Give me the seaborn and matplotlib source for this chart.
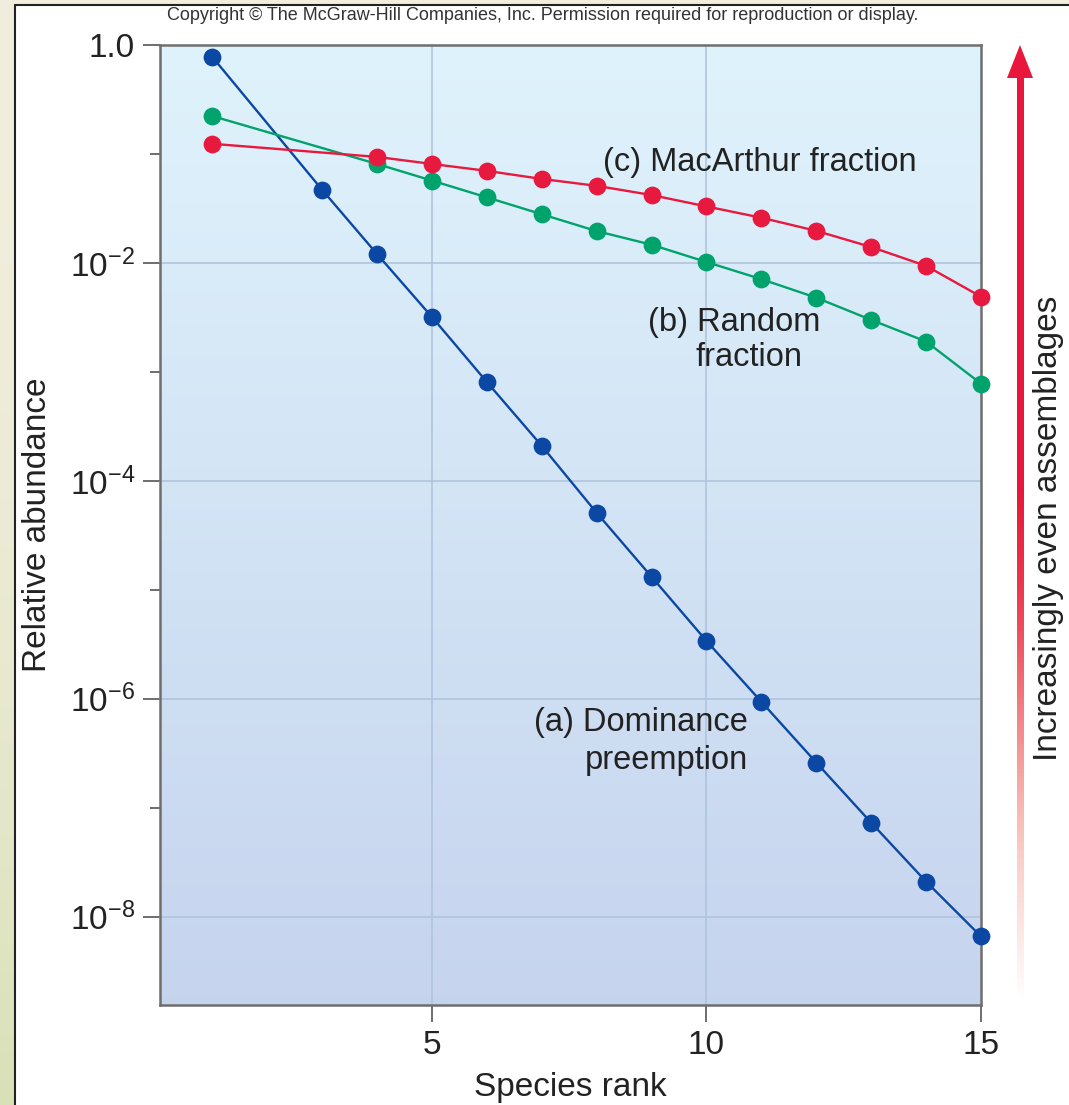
import numpy as np
import pandas as pd
import matplotlib
matplotlib.use("Agg")
import matplotlib.pyplot as plt
import seaborn as sns
from matplotlib.patches import Polygon, Rectangle
from matplotlib.ticker import FixedLocator, NullFormatter

# ---- data ----
rank_a = [1, 3, 4, 5, 6, 7, 8, 9, 10, 11, 12, 13, 14, 15]
dominance = [0.78, 0.047, 0.0121, 3.2e-3, 8.1e-4, 2.1e-4, 5.1e-5, 1.32e-5,
             3.4e-6, 9.4e-7, 2.6e-7, 7.3e-8, 2.1e-8, 6.6e-9]
rank_bc = [1, 4, 5, 6, 7, 8, 9, 10, 11, 12, 13, 14, 15]
random_frac = [0.223, 0.081, 0.057, 0.040, 0.028, 0.0196, 0.0147, 0.0102,
               0.0071, 0.0048, 0.0030, 0.0019, 7.8e-4]
macarthur = [0.124, 0.094, 0.081, 0.070, 0.059, 0.051, 0.042, 0.033,
             0.026, 0.0197, 0.014, 0.0094, 0.0049]
x_ticks = [5, 10, 15]
y_major = [1.0, 1e-2, 1e-4, 1e-6, 1e-8]
y_major_labels = ["1.0", r"$10^{-2}$", r"$10^{-4}$", r"$10^{-6}$", r"$10^{-8}$"]
y_minor = [1e-1, 1e-3, 1e-5, 1e-7]

df_a = pd.DataFrame({"rank": rank_a, "abundance": dominance})
df_b = pd.DataFrame({"rank": rank_bc, "abundance": random_frac})
df_c = pd.DataFrame({"rank": rank_bc, "abundance": macarthur})

sns.set_theme(style="white")
plt.rcParams['font.family'] = ['Liberation Sans', 'DejaVu Sans']
plt.rcParams['mathtext.fontset'] = 'custom'
plt.rcParams['mathtext.rm'] = 'Liberation Sans'
plt.rcParams['mathtext.it'] = 'Liberation Sans'

W, H = 1069, 1105
fig = plt.figure(figsize=(W / 100, H / 100), dpi=100)
fig.patch.set_facecolor("white")

# outer frame strips (cream slide border)
left_grad = np.linspace(0, 1, 256)[:, None]
cream_top = np.array([0.945, 0.933, 0.867])
cream_bot = np.array([0.85, 0.88, 0.72])
strip = cream_top[None, None, :] * (1 - left_grad[:, :, None] ** 2) + cream_bot[None, None, :] * (left_grad[:, :, None] ** 2)
sax = fig.add_axes([0, 0, 15 / W, 1])
sax.imshow(strip, aspect="auto", extent=[0, 1, 0, 1], origin="upper")
sax.axis("off")
fig.add_artist(Rectangle((0, 1 - 5 / H), 1, 5 / H, transform=fig.transFigure,
                         facecolor=cream_top, edgecolor="none", zorder=0))
fig.add_artist(plt.Line2D([15 / W, 15 / W], [0, 1 - 5 / H], transform=fig.transFigure,
                          color="#222222", lw=1.5))
fig.add_artist(plt.Line2D([15 / W, 1], [1 - 5 / H, 1 - 5 / H], transform=fig.transFigure,
                          color="#222222", lw=1.5))

ax = fig.add_axes([160 / W, 1 - 1005 / H, (981 - 160) / W, (1005 - 45) / H])

# gradient background
g = np.linspace(0, 1, 256)[:, None]
top_c = np.array([0.875, 0.953, 0.988])
bot_c = np.array([0.776, 0.831, 0.933])
bg = top_c[None, None, :] * (1 - g[:, :, None]) + bot_c[None, None, :] * g[:, :, None]
ax.imshow(bg, aspect="auto", extent=[0, 1, 0, 1], transform=ax.transAxes,
          origin="upper", zorder=0)

ax.set_yscale("log")
ax.set_xlim(0.05, 15)
ax.set_ylim(10 ** -8.81, 1.0)

for xv in [5, 10]:
    ax.axvline(xv, color="#b0c4de", lw=1.2, zorder=1)
for yv in [1e-2, 1e-4, 1e-6, 1e-8]:
    ax.axhline(yv, color="#b0c4de", lw=1.2, zorder=1)

blue = "#0b48a3"
green = "#00a36b"
red = "#e8193e"
kw = dict(marker="o", markersize=12.8, markeredgewidth=0, linewidth=1.7, zorder=3)
sns.lineplot(data=df_a, x="rank", y="abundance", color=blue, ax=ax, **kw)
sns.lineplot(data=df_b, x="rank", y="abundance", color=green, ax=ax, **kw)
sns.lineplot(data=df_c, x="rank", y="abundance", color=red, ax=ax, **kw)
for ln in ax.lines:
    ln.set_clip_on(False)

ax.yaxis.set_major_locator(FixedLocator(y_major))
ax.set_yticklabels(y_major_labels)
ax.yaxis.set_minor_locator(FixedLocator(y_minor))
ax.yaxis.set_minor_formatter(NullFormatter())
ax.set_xticks(x_ticks)
ax.set_xticklabels([str(v) for v in x_ticks])
ax.tick_params(axis="both", which="major", direction="out", length=12, width=1.2,
               color="#555555", labelsize=24, labelcolor="#222222", pad=6,
               left=True, bottom=True)
ax.tick_params(axis="y", which="minor", direction="out", length=7, width=1.2,
               color="#555555", left=True)
for s in ax.spines.values():
    s.set_visible(True)
    s.set_color("#6e6e6e")
    s.set_linewidth(1.8)

ax.set_xlabel("Species rank", fontsize=24, color="#222222", labelpad=8)
ax.set_ylabel("Relative abundance", fontsize=24, color="#222222", labelpad=12)

tc = "#222222"
fig.text(760 / W, 1 - 162 / H, "(c) MacArthur fraction", fontsize=23.5, color=tc,
         ha="center", va="center")
fig.text(820 / W, 1 - 322 / H, "(b) Random", fontsize=23.5, color=tc, ha="right", va="center")
fig.text(803 / W, 1 - 357 / H, "fraction", fontsize=23.5, color=tc, ha="right", va="center")
fig.text(748 / W, 1 - 722 / H, "(a) Dominance", fontsize=23.5, color=tc, ha="right", va="center")
fig.text(748 / W, 1 - 760 / H, "preemption", fontsize=23.5, color=tc, ha="right", va="center")

fig.text(543 / W, 1 - 15 / H, "Copyright \u00a9 The McGraw-Hill Companies, Inc. Permission required for reproduction or display.",
         fontsize=13, color="#333333", ha="center", va="center")

fig.text(1049 / W, 1 - 528 / H, "Increasingly even assemblages", fontsize=24, color=tc,
         rotation=90, ha="center", va="center")

# gradient arrow
aax = fig.add_axes([1005 / W, 1 - 1000 / H, 30 / W, (1000 - 45) / H])
aax.set_xlim(0, 30)
aax.set_ylim(0, 955)
aax.axis("off")
t = np.linspace(0, 1, 400)[:, None]  # 0 top -> 1 bottom
fade = np.clip((t - 0.55) / 0.45, 0, 1)
alpha = np.clip(1 - fade ** 1.4, 0, 1)
col_top = np.array([0.91, 0.09, 0.23])
col_bot = np.array([0.96, 0.58, 0.52])
mix = np.clip((t - 0.45) / 0.4, 0, 1)
rgb = col_top[None, :] * (1 - mix) + col_bot[None, :] * mix
rgba = np.concatenate([rgb, alpha], axis=1)[:, None, :]
aax.imshow(rgba, aspect="auto", extent=[11.5, 18.5, 0, 924], origin="upper", zorder=1)
aax.add_patch(Polygon([[2, 922], [28, 922], [15, 955]], closed=True,
                      facecolor=col_top, edgecolor="none", zorder=2))

fig.savefig("out.png", dpi=100)
